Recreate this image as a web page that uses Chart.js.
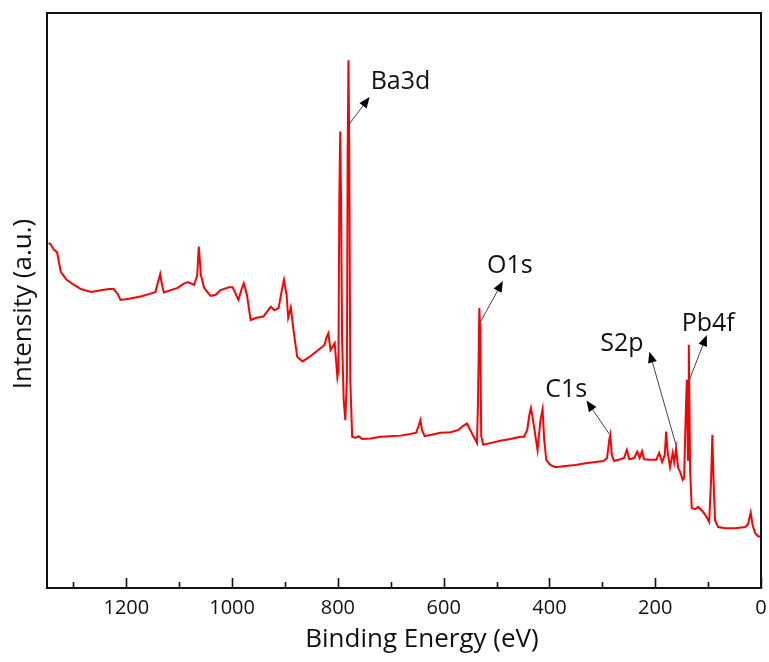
<!DOCTYPE html>
<html>
<head>
<meta charset="utf-8">
<title>XPS survey</title>
<script src="https://cdn.jsdelivr.net/npm/chart.js@4.4.1/dist/chart.umd.min.js"></script>
<style>
    html, body { margin: 0; padding: 0; background: #fff; }
    #wrap { width: 769px; height: 662px; }
</style>
</head>
<body>
<div id="wrap"><canvas id="xps" width="769" height="662"></canvas></div>
<script>
// binding energy (eV) left to right
const energy = [
    1347, 1343, 1337, 1331, 1324, 1313, 1299, 1286, 1267, 1248, 1233, 1224, 1216, 1211, 1195, 1173,
    1154, 1145, 1140, 1136, 1133, 1129, 1116, 1103, 1092, 1084, 1072, 1066, 1063, 1059, 1053, 1041,
    1031, 1022, 1006, 999, 988, 982, 978, 972, 965, 954, 941, 927, 920, 912, 906, 902,
    897, 894, 889, 884, 877, 867, 852, 833, 825, 822, 818, 814, 806, 801, 799, 797.3,
    795.6, 794, 792, 789, 786, 783, 781.5, 780, 778.5, 776.6, 773, 767, 761, 754, 738, 720,
    701, 682, 663, 652, 647, 644, 641, 636, 621, 606, 587, 572, 563, 556, 550, 542,
    537, 535, 532.6, 531, 529, 525, 512, 493, 474, 455, 448, 442, 438, 435, 431, 422.5,
    417, 413, 410, 406, 398.5, 389, 370, 351, 332, 313.5, 298, 291, 287, 285, 282, 277.6,
    266, 259, 253.6, 249, 240, 234, 229.5, 225, 221, 209.6, 198, 192.6, 187, 182, 179.4, 176.6,
    172, 167, 164, 160.5, 156.7, 153, 148, 145.4, 142.6, 140.3, 138, 136.5, 134, 131, 124.6, 119,
    111, 104, 98, 94.4, 92, 89.7, 86.9, 81, 68, 49, 30, 24.5, 19.5, 16, 11.3, 5.7,
    0
];
// intensity (a.u.), same order
const intensity = [
    60.0, 59.8, 58.8, 58.4, 55.0, 53.6, 52.7, 52.0, 51.5, 51.8, 52.0, 52.0, 51.1, 50.1, 50.3, 50.7,
    51.2, 51.5, 53.2, 54.6, 52.9, 51.4, 51.8, 52.2, 52.9, 53.2, 52.7, 54.4, 59.4, 54.4, 52.2, 50.8,
    51.0, 51.8, 52.3, 52.3, 50.1, 52.0, 53.0, 51.0, 46.6, 47.0, 47.2, 48.9, 48.3, 48.7, 51.8, 53.6,
    51.0, 47.0, 48.8, 44.9, 40.2, 39.4, 40.3, 41.7, 42.3, 43.5, 44.3, 41.4, 42.6, 36.7, 37.9, 67.5,
    79.4, 67.5, 43.1, 32.7, 29.2, 36.2, 76.2, 91.8, 76.2, 36.2, 26.3, 26.1, 26.4, 25.9, 26.0, 26.3,
    26.4, 26.5, 26.8, 27.0, 28.3, 29.2, 27.5, 26.4, 26.7, 27.0, 27.1, 27.5, 28.2, 28.6, 27.5, 26.1,
    25.2, 32.7, 48.7, 44.9, 26.4, 24.9, 25.2, 25.6, 25.9, 26.3, 26.3, 27.5, 30.1, 31.3, 29.2, 24.0,
    29.2, 31.1, 25.9, 22.3, 21.4, 21.0, 21.2, 21.4, 21.7, 21.9, 22.1, 22.6, 25.7, 26.6, 23.1, 22.1,
    22.4, 22.6, 24.0, 22.4, 22.6, 23.7, 22.6, 23.8, 22.4, 22.3, 22.3, 23.5, 21.9, 23.1, 27.2, 23.7,
    21.0, 23.5, 21.9, 24.3, 20.9, 20.2, 18.8, 19.1, 29.2, 36.2, 22.3, 42.3, 20.5, 13.9, 13.7, 14.1,
    13.4, 12.5, 11.5, 18.8, 26.6, 18.8, 11.8, 10.6, 10.4, 10.4, 10.6, 11.1, 13.1, 11.0, 9.6, 9.0,
    8.9
];

const xTicks = [0, 200, 400, 600, 800, 1000, 1200];
const xMinorTicks = [100, 300, 500, 700, 900, 1100, 1300];

// peak labels: text anchor and arrow (tail on the peak, head near the text), in data units
const peakNames = ['Ba3d', 'O1s', 'C1s', 'S2p', 'Pb4f'];
const labelAt = [[738, 86.7], [518, 54.8], [408, 33.2], [304, 41.3], [150, 44.7]];
const arrowFrom = [[780, 80.5], [532, 46.0], [287, 26.8], [159, 24.3], [135.4, 36.2]];
const arrowTo = [[740, 85.4], [488, 53.4], [330, 32.6], [211, 41.1], [102.5, 44.0]];

const FONT = '"Open Sans", "DejaVu Sans", sans-serif';

function drawArrow(ctx, x1, y1, x2, y2) {
    const ang = Math.atan2(y2 - y1, x2 - x1);
    const len = 11, half = 4.5;
    ctx.strokeStyle = '#444';
    ctx.lineWidth = 1;
    ctx.beginPath();
    ctx.moveTo(x1, y1);
    ctx.lineTo(x2 - Math.cos(ang) * len * 0.8, y2 - Math.sin(ang) * len * 0.8);
    ctx.stroke();
    ctx.fillStyle = '#000';
    ctx.beginPath();
    ctx.moveTo(x2, y2);
    ctx.lineTo(x2 - Math.cos(ang) * len - Math.sin(ang) * half, y2 - Math.sin(ang) * len + Math.cos(ang) * half);
    ctx.lineTo(x2 - Math.cos(ang) * len + Math.sin(ang) * half, y2 - Math.sin(ang) * len - Math.cos(ang) * half);
    ctx.closePath();
    ctx.fill();
}

const framePlugin = {
    id: 'frameAndNotes',
    afterDraw(chart) {
        const ctx = chart.ctx;
        const a = chart.chartArea;
        const xs = chart.scales.x, ys = chart.scales.y;
        ctx.save();

        // frame
        ctx.strokeStyle = '#111';
        ctx.lineWidth = 2;
        ctx.strokeRect(a.left, a.top, a.right - a.left, a.bottom - a.top);

        // inward ticks on the bottom axis
        ctx.lineWidth = 1.6;
        ctx.beginPath();
        xTicks.forEach(v => {
            const px = Math.round(xs.getPixelForValue(v)) + 0.5;
            ctx.moveTo(px, a.bottom);
            ctx.lineTo(px, a.bottom - 10);
        });
        xMinorTicks.forEach(v => {
            const px = Math.round(xs.getPixelForValue(v)) + 0.5;
            ctx.moveTo(px, a.bottom);
            ctx.lineTo(px, a.bottom - 6);
        });
        ctx.stroke();

        // peak annotations
        peakNames.forEach((name, i) => {
            drawArrow(ctx,
                xs.getPixelForValue(arrowFrom[i][0]), ys.getPixelForValue(arrowFrom[i][1]),
                xs.getPixelForValue(arrowTo[i][0]), ys.getPixelForValue(arrowTo[i][1]));
            ctx.fillStyle = '#111';
            ctx.font = '25px ' + FONT;
            ctx.textAlign = 'left';
            ctx.textBaseline = 'alphabetic';
            ctx.fillText(name, xs.getPixelForValue(labelAt[i][0]), ys.getPixelForValue(labelAt[i][1]));
        });

        // axis titles
        ctx.fillStyle = '#111';
        ctx.font = '26px ' + FONT;
        ctx.textAlign = 'center';
        ctx.textBaseline = 'middle';
        ctx.fillText('Binding Energy (eV)', 422, 640);
        ctx.translate(24, 304);
        ctx.rotate(-Math.PI / 2);
        ctx.fillText('Intensity (a.u.)', 0, 0);
        ctx.restore();
    }
};

new Chart(document.getElementById('xps'), {
    type: 'line',
    data: {
        datasets: [{
            data: energy.map((e, i) => ({ x: e, y: intensity[i] })),
            borderColor: '#ff0000',
            borderWidth: 2,
            pointRadius: 0,
            tension: 0,
            fill: false
        }]
    },
    options: {
        responsive: false,
        animation: false,
        devicePixelRatio: 1,
        layout: { padding: { left: 47, right: 8, top: 13, bottom: 0 } },
        plugins: { legend: { display: false }, tooltip: { enabled: false } },
        scales: {
            x: {
                type: 'linear',
                min: 0,
                max: 1350,
                reverse: true,
                grid: { display: false, drawTicks: false },
                border: { display: false },
                ticks: {
                    color: '#111',
                    font: { family: FONT, size: 20 },
                    padding: 8,
                    maxRotation: 0,
                    callback: v => String(v)
                },
                afterBuildTicks: scale => { scale.ticks = xTicks.map(v => ({ value: v })); },
                afterFit: scale => { scale.height = 74; }
            },
            y: {
                display: false,
                min: 0,
                max: 100
            }
        }
    },
    plugins: [framePlugin]
});
</script>
</body>
</html>
